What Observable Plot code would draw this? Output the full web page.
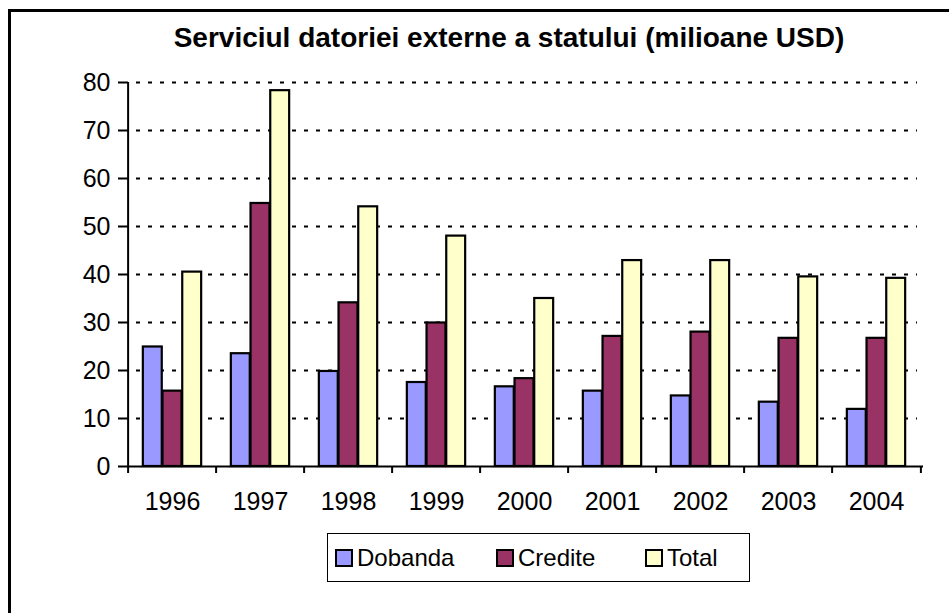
<!DOCTYPE html>
<html>
<head>
<meta charset="utf-8">
<script src="https://cdn.jsdelivr.net/npm/d3@7"></script>
<script src="https://cdn.jsdelivr.net/npm/@observablehq/plot@0.6"></script>
<style>
  html, body { margin: 0; padding: 0; background: #fff; }
  body { width: 949px; height: 613px; overflow: hidden; position: relative; font-family: "Liberation Sans", Arial, sans-serif; }
  #frame { position: absolute; left: 8px; top: 9px; width: 960px; height: 700px; border-left: 3px solid #000; border-top: 3px solid #000; }
  #title { position: absolute; left: 0; width: 1018px; top: 22px; text-align: center; font-weight: bold; font-size: 28px; color: #000; white-space: nowrap; }
  #chart { position: absolute; left: 0; top: 50px; }
  #legend { position: absolute; left: 327px; top: 533px; width: 421px; height: 47px; border: 1.5px solid #000; font-size: 24px; color: #000; }
  .item { position: absolute; top: 0; height: 47px; display: flex; align-items: center; white-space: nowrap; }
  .sw { width: 14px; height: 14px; border: 2px solid #000; margin-right: 4px; box-sizing: content-box; }
</style>
</head>
<body>
<div id="frame"></div>
<div id="title">Serviciul datoriei externe a statului (milioane USD)</div>
<div id="chart"></div>
<div id="legend"></div>
<script>
const years = ["1996", "1997", "1998", "1999", "2000", "2001", "2002", "2003", "2004"];
const seriesNames = ["Dobanda", "Credite", "Total"];
const dobanda = [24.9, 23.5, 19.8, 17.5, 16.6, 15.7, 14.7, 13.4, 11.9];
const credite = [15.7, 54.8, 34.1, 29.9, 18.3, 27.1, 28.0, 26.7, 26.7];
const total = [40.5, 78.3, 54.1, 48.0, 35.0, 42.9, 42.9, 39.5, 39.2];
const colors = ["#9999FF", "#993366", "#FFFFCC"];
const yTicks = [0, 10, 20, 30, 40, 50, 60, 70, 80];
const gridTicks = [10, 20, 30, 40, 50, 60, 70, 80];

const seriesValues = [dobanda, credite, total];
const data = seriesNames.map((s, i) => years.map((y, j) => ({year: y, series: s, value: seriesValues[i][j]})));

const W = 949, H = 470, mL = 124, mR = 26, mT = 32, mB = 54;
const bw = (W - mL - mR) / years.length;
const barW = 19.7;
const inset = (bw - barW) / 2;

const barMarks = data.map((d, i) => Plot.barY(d, {
  x: "year", y: "value", fill: colors[i], stroke: "#000", strokeWidth: 2.2,
  insetLeft: inset, insetRight: inset, dx: (i - 1) * barW
}));

const chart = Plot.plot({
  width: W, height: H,
  marginLeft: mL, marginRight: mR, marginTop: mT, marginBottom: mB,
  style: {fontFamily: "'Liberation Sans', Arial, sans-serif", color: "#000", background: "transparent"},
  x: {domain: years, padding: 0, axis: null},
  y: {domain: [0, 80], axis: null},
  marks: [
    Plot.ruleY(gridTicks, {stroke: "#000", strokeWidth: 2.2, strokeDasharray: "4,8", insetRight: 6}),
    ...barMarks,
    Plot.ruleY([0], {stroke: "#000", strokeWidth: 2}),
    Plot.ruleX([years[0]], {x: d => d, y1: 0, y2: 80, dx: -bw / 2, stroke: "#000", strokeWidth: 2}),
    Plot.axisY({ticks: yTicks, tickSize: 6, tickPadding: 8, fontSize: 25, stroke: "#000", strokeWidth: 2, label: null}),
    Plot.axisX({tickSize: 7, dx: -bw / 2, text: null, stroke: "#000", strokeWidth: 2, label: null}),
    Plot.axisX({ticks: [years[years.length - 1]], tickSize: 7, dx: bw / 2, text: null, stroke: "#000", strokeWidth: 2, label: null}),
    Plot.axisX({tickSize: 0, tickPadding: 26, fontSize: 25, label: null})
  ]
});
document.getElementById("chart").appendChild(chart);

const legend = document.getElementById("legend");
const lefts = [7, 168, 317];
seriesNames.forEach((s, i) => {
  const it = document.createElement("div");
  it.className = "item";
  it.style.left = lefts[i] + "px";
  const sw = document.createElement("div");
  sw.className = "sw";
  sw.style.background = colors[i];
  it.appendChild(sw);
  const t = document.createElement("span");
  t.textContent = s;
  it.appendChild(t);
  legend.appendChild(it);
});
</script>
</body>
</html>
